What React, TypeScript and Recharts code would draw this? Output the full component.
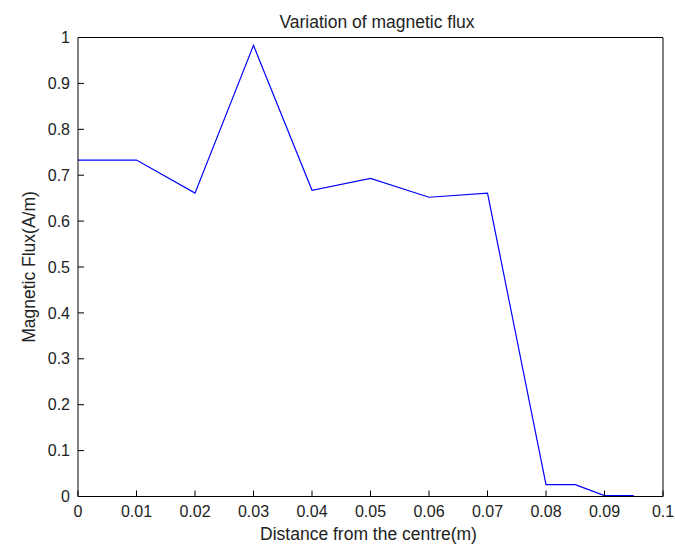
import { LineChart, Line, XAxis, YAxis } from 'recharts'

// distance from the centre (m) and measured flux (A/m)
const distance = [0, 0.01, 0.02, 0.03, 0.04, 0.05, 0.06, 0.07, 0.08, 0.085, 0.09, 0.095]
const flux = [0.733, 0.733, 0.661, 0.983, 0.667, 0.693, 0.652, 0.661, 0.026, 0.026, 0.002, 0.002]

const xTicks = [0, 0.01, 0.02, 0.03, 0.04, 0.05, 0.06, 0.07, 0.08, 0.09, 0.1]
const yTicks = [0, 0.1, 0.2, 0.3, 0.4, 0.5, 0.6, 0.7, 0.8, 0.9, 1]

const data = distance.map((d, i) => ({ d, v: flux[i] }))

const FONT = '"Liberation Sans", Arial, Helvetica, sans-serif'
const TEXT = '#222'
const tickStyle = { fontSize: 16, fill: TEXT, fontFamily: FONT }
const axisLine = { stroke: '#000', strokeWidth: 1 }
const tickLine = { stroke: '#000', strokeWidth: 1 }

export default function App() {
  return (
    <div
      style={{
        position: 'absolute',
        left: 0,
        top: 0,
        width: 675,
        height: 545,
        background: '#fff',
        fontFamily: FONT,
        color: TEXT,
      }}
    >
      <div
        style={{
          position: 'absolute',
          left: 0,
          width: 754,
          top: 12,
          textAlign: 'center',
          fontSize: 17.5,
          lineHeight: '20px',
        }}
      >
        Variation of magnetic flux
      </div>
      <div
        style={{
          position: 'absolute',
          left: 0,
          width: 737,
          top: 524,
          textAlign: 'center',
          fontSize: 17.5,
          lineHeight: '20px',
        }}
      >
        Distance from the centre(m)
      </div>
      <div
        style={{
          position: 'absolute',
          left: 29 - 100,
          top: 267 - 10,
          width: 200,
          height: 20,
          textAlign: 'center',
          fontSize: 17.5,
          lineHeight: '20px',
          transform: 'rotate(-90deg)',
          whiteSpace: 'nowrap',
        }}
      >
        Magnetic Flux(A/m)
      </div>
      <LineChart
        width={675}
        height={545}
        data={data}
        margin={{ top: 36.5, right: 11, bottom: 47.5, left: 77 }}
        style={{ position: 'absolute', left: 0, top: 0 }}
      >
        <XAxis
          xAxisId="bottom"
          dataKey="d"
          type="number"
          domain={[0, 0.1]}
          ticks={xTicks}
          interval={0}
          orientation="bottom"
          height={1}
          tickSize={-6}
          tickMargin={15}
          axisLine={axisLine}
          tickLine={tickLine}
          tick={tickStyle}
          tickFormatter={(v: number) => String(v)}
        />
        <XAxis
          xAxisId="top"
          dataKey="d"
          type="number"
          domain={[0, 0.1]}
          ticks={xTicks}
          interval={0}
          orientation="top"
          height={1}
          tickSize={-6}
          axisLine={axisLine}
          tickLine={tickLine}
          tick={false}
        />
        <YAxis
          yAxisId="left"
          type="number"
          domain={[0, 1]}
          ticks={yTicks}
          interval={0}
          orientation="left"
          width={1}
          tickSize={-6}
          tickMargin={14}
          axisLine={axisLine}
          tickLine={tickLine}
          tick={tickStyle}
          tickFormatter={(v: number) => String(v)}
        />
        <YAxis
          yAxisId="right"
          type="number"
          domain={[0, 1]}
          ticks={yTicks}
          interval={0}
          orientation="right"
          width={1}
          tickSize={-6}
          axisLine={axisLine}
          tickLine={tickLine}
          tick={false}
        />
        <Line
          xAxisId="bottom"
          yAxisId="left"
          type="linear"
          dataKey="v"
          stroke="#0000ff"
          strokeWidth={1.2}
          dot={false}
          activeDot={false}
          isAnimationActive={false}
        />
      </LineChart>
    </div>
  )
}
